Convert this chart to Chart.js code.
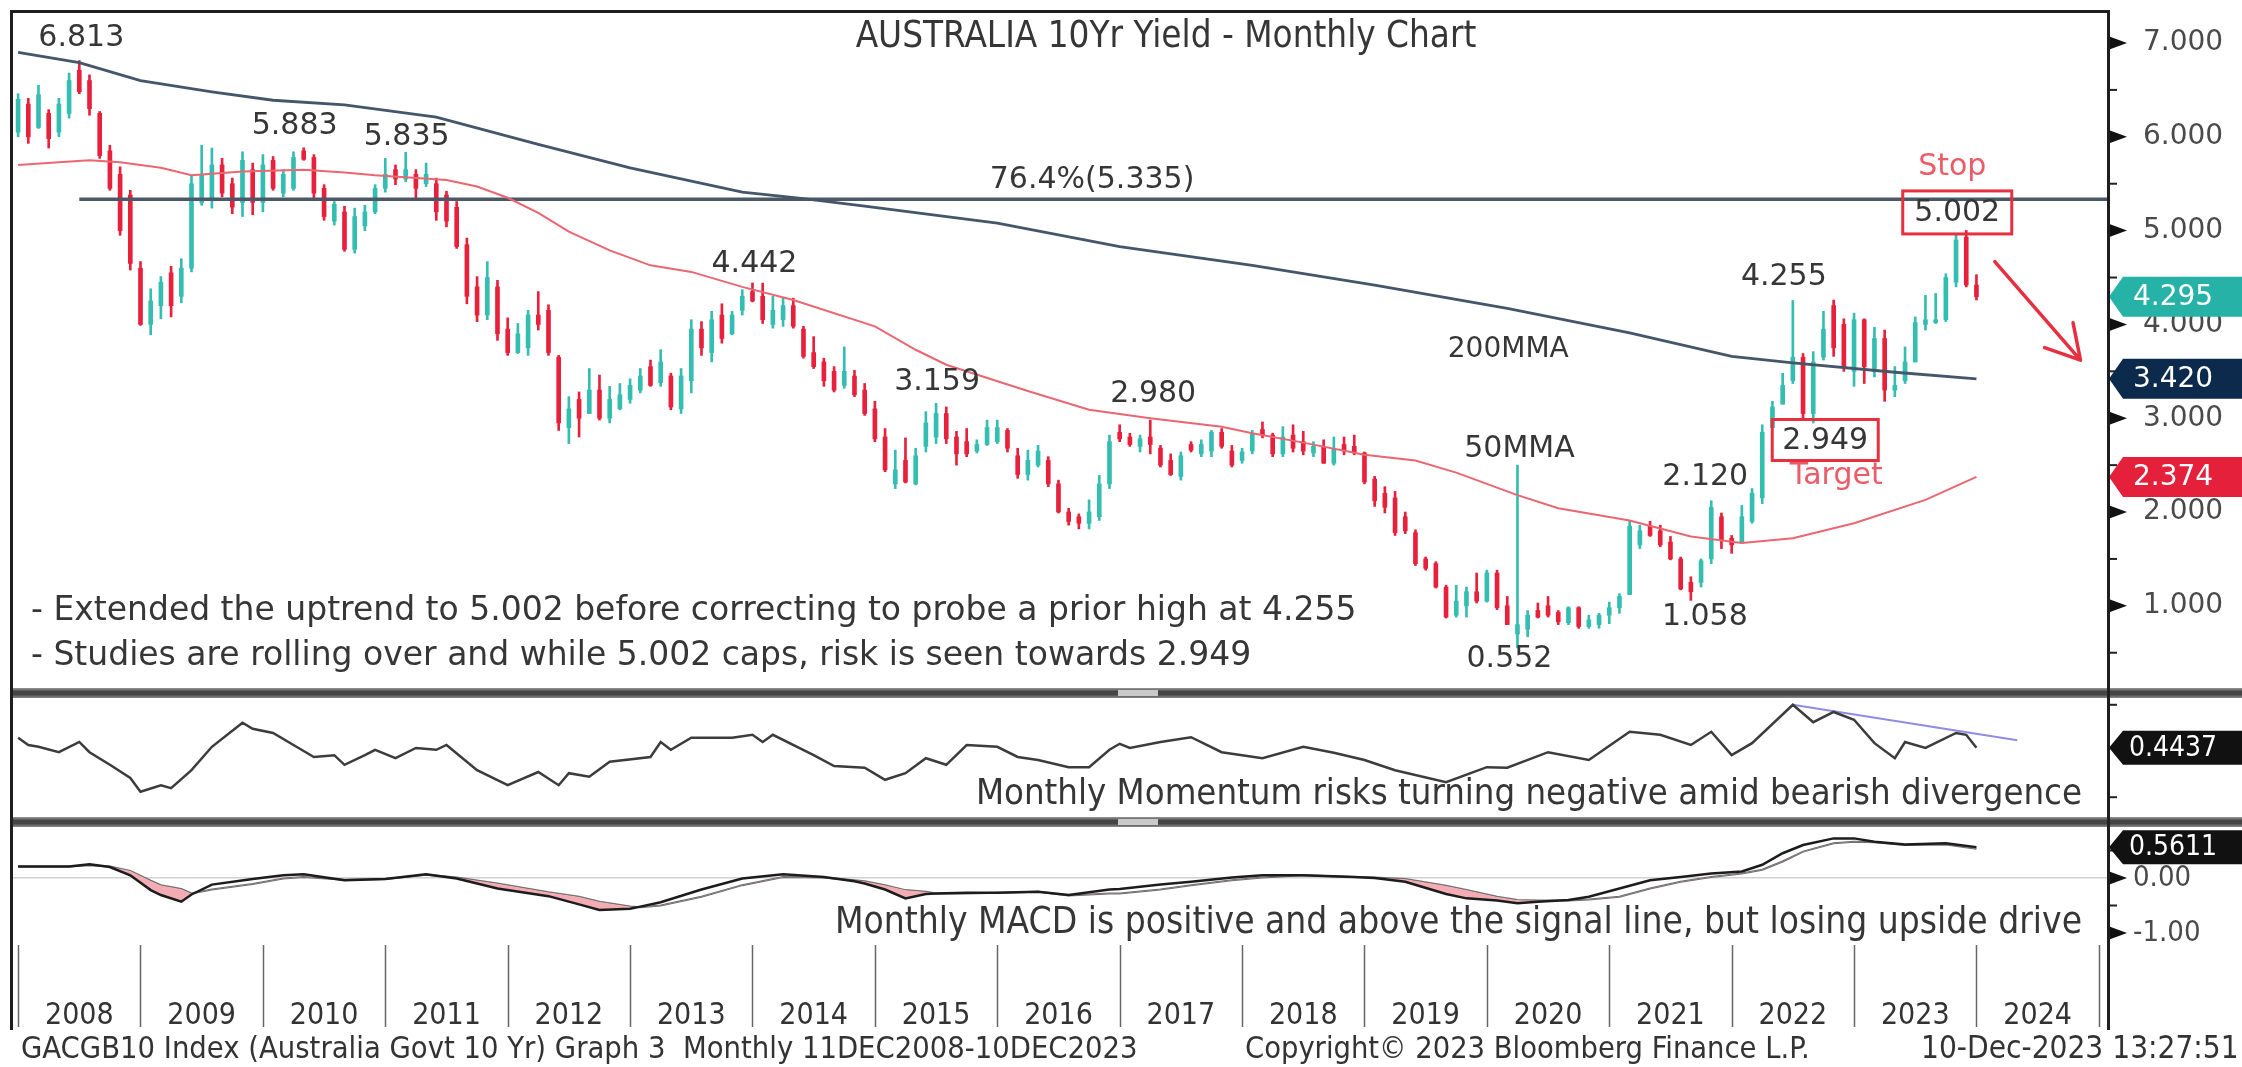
<!DOCTYPE html>
<html>
<head>
<meta charset="utf-8">
<title>AUSTRALIA 10Yr Yield - Monthly Chart</title>
<script src="https://cdn.jsdelivr.net/npm/chart.js@4.4.1/dist/chart.umd.min.js"></script>
<style>
  html, body { margin: 0; padding: 0; background: #fff; }
  #wrap { position: relative; width: 2242px; height: 1067px; overflow: hidden; background: #fff; }
  #wrap canvas { position: absolute; left: 0; }
  .sep { position: absolute; left: 10px; width: 2232px; height: 10px;
         background: linear-gradient(#9a9a9a, #454545 35%, #454545 65%, #8a8a8a); }
  .sep i { position: absolute; left: 1108px; top: 2px; width: 40px; height: 6px; background: #c9c9c9; }
  #frame { position: absolute; left: 10px; top: 10px; width: 2094px; height: 1017px;
           border: 3px solid #1e1e1e; border-bottom: 0; pointer-events: none; }
</style>
</head>
<body>
<div id="wrap">
  <canvas id="main" width="2242" height="688" style="top:0"></canvas>
  <div class="sep" style="top:688px"><i></i></div>
  <canvas id="mom" width="2242" height="119" style="top:698px"></canvas>
  <div class="sep" style="top:817px"><i></i></div>
  <canvas id="macd" width="2242" height="240" style="top:827px"></canvas>
  <div id="frame"></div>
</div>
<script>
/* AUSTRALIA 10Yr yield, monthly candles + 50/200MMA, momentum and MACD panes. */
const $ = (id) => document.getElementById(id);

// ---- data -------------------------------------------------------------
// monthly candles, Dec 2007 (index 0) .. Dec 2023 (index 192), one row per year
const yearLabels = ["2008", "2009", "2010", "2011", "2012", "2013", "2014", "2015", "2016",
  "2017", "2018", "2019", "2020", "2021", "2022", "2023", "2024"];

const open = [
  6.05,
  6.35, 6.10, 6.25, 6.05, 6.25, 6.71, 6.60, 6.25, 5.85, 5.60, 5.38, 4.60,
  4.00, 4.20, 4.55, 4.30, 4.60, 5.30, 5.35, 5.70, 5.50, 5.30, 5.65, 5.30,
  5.75, 5.40, 5.45, 5.85, 5.78, 5.45, 5.10, 5.20, 4.80, 5.05, 5.20, 5.45,
  5.65, 5.55, 5.60, 5.50, 5.50, 5.38, 5.25, 4.85, 4.40, 4.10, 4.40, 3.95,
  3.70, 3.75, 4.10, 4.15, 3.65, 2.90, 3.20, 3.05, 3.30, 3.00, 3.10, 3.20,
  3.30, 3.55, 3.38, 3.45, 3.10, 3.40, 3.95, 3.70, 4.10, 3.90, 4.15, 4.35,
  4.30, 4.00, 4.05, 4.20, 3.95, 3.70, 3.60, 3.50, 3.35, 3.45, 3.30, 3.10,
  2.80, 2.30, 2.55, 2.30, 2.70, 2.80, 3.05, 2.80, 2.75, 2.65, 2.72, 2.75,
  2.87, 2.60, 2.40, 2.50, 2.55, 2.30, 2.00, 1.95, 1.88, 1.95, 2.30, 2.85,
  2.80, 2.70, 2.80, 2.68, 2.55, 2.38, 2.72, 2.62, 2.65, 2.85, 2.65, 2.55,
  2.65, 2.88, 2.82, 2.62, 2.82, 2.75, 2.63, 2.70, 2.52, 2.72, 2.70, 2.63,
  2.35, 2.20, 2.15, 1.95, 1.78, 1.50, 1.45, 1.20, 0.90, 1.00, 1.15, 1.05,
  1.35, 1.00, 0.70, 0.75, 0.95, 1.00, 0.93, 0.82, 0.98, 0.78, 0.80, 0.90,
  0.98, 1.12, 1.65, 1.85, 1.80, 1.68, 1.50, 1.25, 1.25, 1.50, 1.95, 1.72,
  1.68, 1.90, 2.15, 2.90, 3.15, 3.40, 3.65, 3.05, 3.65, 4.20, 4.00, 3.50,
  4.05, 3.50, 3.85, 3.30, 3.40, 3.60, 4.00, 4.02, 4.05, 4.45, 4.93, 4.42,
];
const high = [
  6.46,
  6.41, 6.55, 6.29, 6.41, 6.68, 6.813, 6.66, 6.27, 5.91, 5.68, 5.43, 4.67,
  4.38, 4.51, 4.62, 4.70, 5.58, 5.91, 5.88, 5.77, 5.56, 5.84, 5.72, 5.81,
  5.79, 5.65, 5.84, 5.883, 5.81, 5.49, 5.31, 5.26, 5.24, 5.27, 5.49, 5.77,
  5.70, 5.835, 5.65, 5.72, 5.56, 5.42, 5.31, 4.92, 4.51, 4.67, 4.47, 4.07,
  4.01, 4.15, 4.35, 4.21, 3.67, 3.23, 3.28, 3.53, 3.46, 3.34, 3.37, 3.42,
  3.53, 3.62, 3.73, 3.48, 3.53, 4.05, 4.03, 4.14, 4.22, 4.14, 4.37, 4.442,
  4.44, 4.30, 4.28, 4.28, 3.98, 3.87, 3.64, 3.55, 3.76, 3.51, 3.37, 3.18,
  2.89, 2.66, 2.79, 2.68, 3.07, 3.159, 3.12, 2.86, 2.89, 2.77, 2.98, 2.98,
  2.89, 2.68, 2.66, 2.71, 2.59, 2.34, 2.04, 1.98, 2.13, 2.39, 2.82, 2.93,
  2.84, 2.82, 2.98, 2.71, 2.62, 2.64, 2.75, 2.77, 2.87, 2.89, 2.71, 2.68,
  2.87, 2.96, 2.84, 2.91, 2.93, 2.86, 2.75, 2.77, 2.80, 2.80, 2.82, 2.64,
  2.38, 2.27, 2.22, 2.00, 1.81, 1.52, 1.47, 1.22, 1.22, 1.20, 1.35, 1.38,
  1.38, 1.10, 2.50, 0.95, 1.03, 1.10, 0.95, 0.99, 0.99, 0.90, 0.92, 1.04,
  1.13, 1.91, 1.86, 1.90, 1.86, 1.74, 1.52, 1.31, 1.50, 2.12, 1.99, 1.75,
  2.07, 2.25, 2.93, 3.18, 3.48, 4.255, 3.69, 3.71, 4.14, 4.26, 4.06, 4.12,
  4.06, 3.97, 3.94, 3.55, 3.76, 4.08, 4.31, 4.33, 4.54, 4.95, 5.002, 4.53,
];
const low = [
  6.00,
  5.93, 6.09, 5.88, 6.00, 6.20, 6.46, 6.23, 5.77, 5.43, 4.95, 4.58, 3.99,
  3.89, 4.06, 4.08, 4.23, 4.56, 5.27, 5.24, 5.36, 5.18, 5.15, 5.17, 5.20,
  5.43, 5.36, 5.43, 5.75, 5.33, 5.11, 5.06, 4.78, 4.76, 5.00, 5.18, 5.41,
  5.49, 5.52, 5.33, 5.47, 5.11, 5.04, 4.81, 4.22, 4.03, 4.05, 3.83, 3.67,
  3.69, 3.67, 3.94, 3.67, 2.87, 2.73, 2.80, 3.05, 2.98, 2.95, 3.09, 3.16,
  3.27, 3.34, 3.34, 3.09, 3.05, 3.27, 3.67, 3.60, 3.80, 3.89, 4.10, 4.24,
  4.01, 3.96, 3.98, 3.96, 3.64, 3.53, 3.34, 3.28, 3.32, 3.23, 3.03, 2.75,
  2.43, 2.25, 2.31, 2.29, 2.64, 2.73, 2.73, 2.50, 2.59, 2.63, 2.71, 2.73,
  2.64, 2.36, 2.34, 2.48, 2.27, 1.99, 1.86, 1.82, 1.82, 1.91, 2.25, 2.75,
  2.70, 2.64, 2.62, 2.48, 2.39, 2.34, 2.64, 2.59, 2.59, 2.68, 2.48, 2.52,
  2.62, 2.79, 2.59, 2.59, 2.64, 2.61, 2.59, 2.52, 2.50, 2.61, 2.61, 2.30,
  2.06, 1.99, 1.75, 1.77, 1.43, 1.38, 1.19, 0.87, 0.88, 0.88, 1.03, 1.04,
  0.96, 0.80, 0.552, 0.67, 0.87, 0.88, 0.80, 0.80, 0.76, 0.76, 0.76, 0.81,
  0.92, 1.12, 1.61, 1.74, 1.63, 1.49, 1.17, 1.058, 1.20, 1.45, 1.61, 1.56,
  1.67, 1.88, 2.09, 2.90, 3.15, 3.37, 3.00, 2.949, 3.62, 3.66, 3.50, 3.34,
  3.37, 3.44, 3.18, 3.23, 3.37, 3.60, 3.94, 4.01, 4.03, 4.40, 4.40, 4.26,
];
const close = [
  6.40,
  6.00, 6.45, 5.98, 6.35, 6.60, 6.48, 6.30, 5.80, 5.45, 5.00, 4.65, 4.00,
  4.25, 4.45, 4.20, 4.60, 5.50, 5.60, 5.70, 5.40, 5.25, 5.75, 5.30, 5.70,
  5.45, 5.60, 5.78, 5.76, 5.40, 5.15, 5.28, 4.80, 5.15, 5.20, 5.45, 5.60,
  5.55, 5.65, 5.45, 5.60, 5.20, 5.10, 4.83, 4.30, 4.10, 4.50, 3.90, 3.70,
  3.90, 4.10, 4.00, 3.70, 2.95, 3.10, 3.00, 3.30, 3.00, 3.20, 3.25, 3.35,
  3.45, 3.35, 3.60, 3.12, 3.45, 3.95, 3.75, 4.05, 3.85, 4.10, 4.30, 4.25,
  4.05, 4.15, 4.20, 3.98, 3.66, 3.55, 3.40, 3.30, 3.50, 3.25, 3.05, 2.78,
  2.45, 2.45, 2.32, 2.60, 2.95, 3.05, 2.78, 2.62, 2.62, 2.72, 2.90, 2.90,
  2.68, 2.40, 2.55, 2.65, 2.30, 2.00, 1.90, 1.88, 2.00, 2.30, 2.75, 2.78,
  2.72, 2.78, 2.72, 2.50, 2.40, 2.60, 2.66, 2.72, 2.85, 2.70, 2.50, 2.64,
  2.83, 2.82, 2.62, 2.80, 2.68, 2.65, 2.70, 2.52, 2.68, 2.65, 2.63, 2.32,
  2.12, 2.05, 1.78, 1.80, 1.45, 1.40, 1.20, 0.88, 1.05, 1.15, 1.05, 1.35,
  0.98, 0.80, 0.80, 0.90, 0.88, 0.90, 0.83, 0.98, 0.78, 0.85, 0.90, 0.98,
  1.10, 1.85, 1.80, 1.75, 1.65, 1.50, 1.18, 1.15, 1.48, 2.05, 1.70, 1.65,
  1.95, 2.20, 2.85, 3.12, 3.35, 3.65, 3.05, 3.60, 3.95, 3.75, 3.55, 4.05,
  3.55, 3.85, 3.30, 3.35, 3.60, 4.02, 4.05, 4.05, 4.50, 4.90, 4.42, 4.295,
];

const ma50K = [0, 4, 7, 10, 14, 17, 22, 28, 32, 35, 42, 45, 48, 51, 54, 58, 62, 66, 71, 76,
  84, 88, 91, 99, 105, 111, 118, 121, 126, 132, 137, 141, 147, 151, 158, 164, 169, 174, 180, 187, 192];
const ma50 = [5.70, 5.73, 5.75, 5.73, 5.67, 5.59, 5.63, 5.65, 5.62, 5.59, 5.54, 5.47, 5.35, 5.19, 4.99, 4.79, 4.63, 4.56, 4.40, 4.26,
  3.98, 3.73, 3.57, 3.29, 3.09, 3.00, 2.91, 2.84, 2.74, 2.61, 2.55, 2.42, 2.18, 2.04, 1.91, 1.74, 1.67, 1.72, 1.88, 2.13, 2.374];
const ma200K = [0, 6, 12, 19, 25, 32, 41, 51, 60, 71, 77, 83, 96, 108, 121, 133, 146, 158, 168, 174, 184, 192];
const ma200 = [6.90, 6.79, 6.60, 6.48, 6.39, 6.34, 6.21, 5.92, 5.67, 5.41, 5.34, 5.26, 5.08, 4.83, 4.63, 4.42, 4.17, 3.91, 3.66, 3.59, 3.49, 3.42];

const fibFromK = 6;          // retracement drawn from the 2008 high
const fibLevel = 5.335;      // 76.4%
const yieldTicks = [1, 2, 3, 4, 5, 6, 7];
const yieldMinorTicks = [0.5, 1.5, 2.5, 3.5, 4.5, 5.5, 6.5];

const markedHighs = [[6, 6.813], [28, 5.883], [38, 5.835], [72, 4.442], [90, 3.159], [111, 2.980], [166, 2.120], [174, 4.255]];
const markedLows = [[147, 0.552], [164, 1.058]];
const stopLevel = [191, 5.002];
const targetLevel = [176, 2.949];
const spikeHigh = [147, 2.50];
const arrowFrom = [193.8, 4.67];
const arrowTo = [202.2, 3.62];

// momentum pane
const momK = [0, 1, 2, 4, 6, 7, 9, 11, 12, 14, 15, 17, 19, 22, 23, 25, 27, 29, 31, 32, 34, 35, 37, 39, 41, 42, 45, 48, 51, 53,
  54, 56, 58, 62, 63, 64, 66, 70, 72, 73, 74, 78, 80, 83, 85, 87, 89, 91, 93, 96, 98, 100, 103, 105, 107, 108, 109, 112, 115, 118,
  122, 126, 129, 132, 135, 140, 144, 146, 150, 154, 158, 161, 164, 166, 168, 170, 174, 176, 178, 180, 182, 184, 185, 187, 190, 191, 192];
const momV = [0.61, 0.49, 0.46, 0.37, 0.54, 0.37, 0.16, -0.06, -0.29, -0.18, -0.23, 0.07, 0.46, 0.86, 0.76, 0.69, 0.49, 0.29, 0.32, 0.16,
  0.32, 0.41, 0.27, 0.44, 0.41, 0.49, 0.07, -0.18, 0.04, -0.18, 0.02, -0.04, 0.21, 0.29, 0.54, 0.41, 0.61, 0.61, 0.66, 0.54,
  0.66, 0.32, 0.14, 0.11, -0.09, 0.02, 0.27, 0.16, 0.49, 0.46, 0.29, 0.24, 0.12, 0.12, 0.41, 0.51, 0.44, 0.54, 0.62, 0.37,
  0.27, 0.46, 0.36, 0.24, 0.07, -0.13, 0.12, 0.11, 0.37, 0.24, 0.71, 0.66, 0.49, 0.71, 0.32, 0.52, 1.16, 0.87, 1.04, 0.91,
  0.52, 0.27, 0.54, 0.44, 0.69, 0.66, 0.4437];
const momTrendK = [174, 196];
const momTrendV = [1.16, 0.57];
const momMinorTicks = [1.16, -0.38];

// MACD pane
const macdK = [0, 5, 7, 9, 11, 13, 14, 16, 17, 19, 23, 26, 28, 32, 36, 40, 43, 47, 52, 55, 57, 60, 61, 63, 67, 71, 75, 79, 82, 83,
  85, 87, 89, 90, 93, 96, 100, 103, 107, 108, 112, 115, 119, 122, 126, 131, 133, 136, 140, 142, 145, 147, 149, 152, 154, 157, 160, 163, 166, 169,
  171, 173, 175, 178, 180, 182, 185, 189, 192];
const macdV = [0.21, 0.21, 0.25, 0.20, 0.05, -0.22, -0.31, -0.43, -0.30, -0.12, -0.02, 0.05, 0.07, -0.04, -0.02, 0.07, -0.01, -0.19, -0.33, -0.48,
  -0.58, -0.56, -0.52, -0.44, -0.21, -0.01, 0.07, 0.02, -0.06, -0.10, -0.21, -0.37, -0.29, -0.28, -0.27, -0.27, -0.25, -0.31, -0.21, -0.20,
  -0.12, -0.07, 0.01, 0.05, 0.05, 0.02, 0.00, -0.07, -0.29, -0.37, -0.41, -0.46, -0.43, -0.40, -0.34, -0.19, -0.04, 0.02, 0.08, 0.12,
  0.24, 0.45, 0.60, 0.72, 0.72, 0.66, 0.61, 0.63, 0.5611];
const signalV = [0.21, 0.21, 0.23, 0.21, 0.13, -0.05, -0.13, -0.20, -0.28, -0.21, -0.11, -0.01, 0.02, -0.03, -0.02, 0.06, 0.01, -0.10, -0.26, -0.34,
  -0.43, -0.52, -0.53, -0.50, -0.34, -0.13, 0.02, 0.01, -0.04, -0.06, -0.13, -0.22, -0.25, -0.28, -0.28, -0.27, -0.25, -0.32, -0.28, -0.28,
  -0.21, -0.13, -0.04, 0.01, 0.05, 0.02, 0.01, -0.02, -0.14, -0.22, -0.34, -0.40, -0.41, -0.41, -0.39, -0.34, -0.19, -0.07, 0.02, 0.08,
  0.15, 0.30, 0.48, 0.63, 0.66, 0.65, 0.60, 0.61, 0.53];
const macdTicks = [0, -1];
const macdMinorTicks = [0.5, -0.5];

const chartTitle = "AUSTRALIA 10Yr Yield - Monthly Chart";
const notes = [
  "- Extended the uptrend to 5.002 before correcting to probe a prior high at 4.255",
  "- Studies are rolling over and while 5.002 caps, risk is seen towards 2.949",
];
const momCaption = "Monthly Momentum risks turning negative amid bearish divergence";
const macdCaption = "Monthly MACD is positive and above the signal line, but losing upside drive";
const footer = [
  "GACGB10 Index (Australia Govt 10 Yr) Graph 3  Monthly 11DEC2008-10DEC2023",
  "Copyright\u00a9 2023 Bloomberg Finance L.P.",
  "10-Dec-2023 13:27:51",
];

// ---- look ---------------------------------------------------------------
const UP = "#34bdb1", DOWN = "#e8203c", RED = "#e6303f", NOTE_RED = "#ec5b68", INK = "#363636";
const SANS = "'DejaVu Sans', Verdana, sans-serif";
const NARROW = "'DejaVu Sans Condensed', 'Liberation Sans Narrow', 'DejaVu Sans', sans-serif";
const W = 2242, PLOT_L = 13, AXIS_W = 135;
const K_MIN = -0.5, K_MAX = 204.8;
const PX_PER_MONTH = (W - AXIS_W - PLOT_L) / (K_MAX - K_MIN);

// label offsets (px) from the point they describe
const highOffsets = [[2, -22], [-9, -22], [1, -15], [2, -19], [1, -21], [3, -26], [-6, -24], [-9, -23]];
const lowOffsets = [[-8, 11], [14, 17]];

Chart.defaults.font.family = SANS;
Chart.defaults.color = INK;

const pts = (ks, vs) => ks.map((k, i) => ({ x: k, y: vs[i] }));
const xScale = () => ({ type: "linear", min: K_MIN, max: K_MAX, offset: false, display: false });
const baseOpts = (padding) => ({
  responsive: false, animation: false, devicePixelRatio: 1,
  layout: { padding, autoPadding: false },
  plugins: { legend: { display: false }, tooltip: { enabled: false } },
});

function fitFont(ctx, text, family, width) {
  ctx.font = `100px ${family}`;
  return `${(100 * width / ctx.measureText(text).width).toFixed(1)}px ${family}`;
}

function tag(ctx, area, py, text, bg, h) {
  ctx.beginPath();
  ctx.moveTo(area.right + 2, py);
  ctx.lineTo(area.right + 16, py - h / 2);
  ctx.lineTo(W, py - h / 2);
  ctx.lineTo(W, py + h / 2);
  ctx.lineTo(area.right + 16, py + h / 2);
  ctx.closePath();
  ctx.fillStyle = bg;
  ctx.fill();
  ctx.fillStyle = "#fff";
  ctx.textAlign = "center";
  ctx.textBaseline = "middle";
  ctx.fillText(text, area.right + 66, py + 1);
}

function axisMarks(ctx, area, y, major, minor) {
  ctx.fillStyle = "#111";
  major.forEach((v) => {
    const py = y.getPixelForValue(v);
    ctx.beginPath();
    ctx.moveTo(area.right + 1, py - 7);
    ctx.lineTo(area.right + 20, py);
    ctx.lineTo(area.right + 1, py + 7);
    ctx.fill();
  });
  ctx.strokeStyle = "#222";
  ctx.lineWidth = 2;
  minor.forEach((v) => {
    const py = y.getPixelForValue(v);
    ctx.beginPath();
    ctx.moveTo(area.right, py);
    ctx.lineTo(area.right + 10, py);
    ctx.stroke();
  });
}

// ---- main pane ----------------------------------------------------------
const mainDeco = {
  id: "mainDeco",
  afterDraw(chart) {
    const { ctx, chartArea: a, scales: { x, y } } = chart;
    const px = (k) => x.getPixelForValue(k), py = (v) => y.getPixelForValue(v);
    ctx.save();
    axisMarks(ctx, a, y, yieldTicks, yieldMinorTicks);

    ctx.textAlign = "center";
    ctx.textBaseline = "middle";
    ctx.fillStyle = INK;
    ctx.font = fitFont(ctx, chartTitle, NARROW, 620);
    ctx.fillText(chartTitle, 1166, 38);

    ctx.font = `30px ${SANS}`;
    markedHighs.forEach(([k, v], i) => ctx.fillText(v.toFixed(3), px(k) + highOffsets[i][0], py(v) + highOffsets[i][1]));
    markedLows.forEach(([k, v], i) => ctx.fillText(v.toFixed(3), px(k) + lowOffsets[i][0], py(v) + lowOffsets[i][1]));
    ctx.fillText(`76.4%(${fibLevel.toFixed(3)})`, px(105) + 3, py(fibLevel) - 19);
    ctx.fillText("50MMA", px(spikeHigh[0]) + 2, py(spikeHigh[1]) - 16);
    ctx.font = `28px ${SANS}`;
    const m200i = ma200K.indexOf(146);
    ctx.fillText("200MMA", px(146) + 1, py(ma200[m200i]) + 41);

    // stop / target boxes
    ctx.font = `30px ${SANS}`;
    const boxes = [
      { at: stopLevel, dx: -9, dy: -18, w: 109, h: 43, note: "Stop", ndx: -14, ndy: -63 },
      { at: targetLevel, dx: 12, dy: 17, w: 106, h: 41, note: "Target", ndx: 23, ndy: 53 },
    ];
    boxes.forEach((b) => {
      const [k, v] = b.at;
      const cx = px(k) + b.dx, cy = py(v) + b.dy;
      ctx.strokeStyle = RED;
      ctx.lineWidth = 3;
      ctx.strokeRect(cx - b.w / 2, cy - b.h / 2, b.w, b.h);
      ctx.fillStyle = INK;
      ctx.fillText(v.toFixed(3), cx, cy + 1);
      ctx.fillStyle = NOTE_RED;
      ctx.fillText(b.note, px(k) + b.ndx, py(v) + b.ndy);
    });

    // projected move arrow
    const x0 = px(arrowFrom[0]), y0 = py(arrowFrom[1]), x1 = px(arrowTo[0]), y1 = py(arrowTo[1]);
    const ang = Math.atan2(y1 - y0, x1 - x0);
    ctx.strokeStyle = RED;
    ctx.lineWidth = 3.5;
    ctx.lineCap = "round";
    ctx.beginPath();
    ctx.moveTo(x0, y0);
    ctx.lineTo(x1, y1);
    [-0.52, 0.52].forEach((d) => {
      ctx.moveTo(x1, y1);
      ctx.lineTo(x1 - 38 * Math.cos(ang + d), y1 - 38 * Math.sin(ang + d));
    });
    ctx.stroke();

    // commentary
    ctx.textAlign = "left";
    ctx.fillStyle = INK;
    ctx.font = fitFont(ctx, notes[0], SANS, 1327);
    ctx.fillText(notes[0], 31, 611);
    ctx.fillText(notes[1], 31, 656);

    // last-value tags
    ctx.font = `28px ${SANS}`;
    tag(ctx, a, py(close[close.length - 1]), close[close.length - 1].toFixed(3), "#27b2a7", 40);
    tag(ctx, a, py(ma200[ma200.length - 1]), ma200[ma200.length - 1].toFixed(3), "#0b2a4c", 40);
    tag(ctx, a, py(ma50[ma50.length - 1]), ma50[ma50.length - 1].toFixed(3), "#e4203a", 40);
    ctx.restore();
  },
};

const idx = close.map((_, k) => k);
const candleColor = idx.map((k) => (close[k] >= open[k] ? UP : DOWN));

new Chart($("main"), {
  type: "bar",
  data: {
    datasets: [
      { type: "line", data: pts(ma50K, ma50), borderColor: "#ea6671", borderWidth: 2, pointRadius: 0, order: 1 },
      { type: "line", data: pts(ma200K, ma200), borderColor: "#45566a", borderWidth: 2.8, pointRadius: 0, order: 1 },
      { type: "line", data: [{ x: fibFromK, y: fibLevel }, { x: K_MAX, y: fibLevel }], borderColor: "#4b5867", borderWidth: 3.5, pointRadius: 0, order: 1 },
      {
        data: idx.map((k) => ({ x: k, y: [Math.min(open[k], close[k]), Math.max(open[k], close[k])] })),
        backgroundColor: candleColor, barThickness: 4, minBarLength: 2, grouped: false, order: 2,
      },
      {
        data: idx.map((k) => ({ x: k, y: [low[k], high[k]] })),
        backgroundColor: candleColor, barThickness: 2, grouped: false, order: 3,
      },
    ],
  },
  options: {
    ...baseOpts({ left: PLOT_L, top: 13, right: 0, bottom: 0 }),
    scales: {
      x: xScale(),
      y: {
        type: "linear", position: "right", min: 0.124, max: 7.32,
        grid: { display: false }, border: { display: false },
        afterBuildTicks: (s) => { s.ticks = yieldTicks.map((v) => ({ value: v })); },
        afterFit: (s) => { s.width = AXIS_W; s.paddingTop = 0; s.paddingBottom = 0; },
        ticks: { padding: 28, color: "#4a4a4a", font: { size: 28 }, callback: (v) => Number(v).toFixed(3) },
      },
    },
  },
  plugins: [mainDeco],
});

// ---- momentum pane ------------------------------------------------------
const momDeco = {
  id: "momDeco",
  afterDraw(chart) {
    const { ctx, chartArea: a, scales: { y } } = chart;
    ctx.save();
    axisMarks(ctx, a, y, [], momMinorTicks);
    ctx.fillStyle = INK;
    ctx.textAlign = "right";
    ctx.textBaseline = "middle";
    ctx.font = fitFont(ctx, momCaption, NARROW, 1107);
    ctx.fillText(momCaption, 2082, 97);
    ctx.font = `28px ${NARROW}`;
    const last = momV[momV.length - 1];
    tag(ctx, a, y.getPixelForValue(last), last.toFixed(4), "#111", 34);
    ctx.restore();
  },
};

new Chart($("mom"), {
  type: "line",
  data: {
    datasets: [
      { data: pts(momK, momV), borderColor: "#3c3c3c", borderWidth: 2.5, pointRadius: 0 },
      { data: pts(momTrendK, momTrendV), borderColor: "#8d8de4", borderWidth: 2, pointRadius: 0 },
    ],
  },
  options: {
    ...baseOpts({ left: PLOT_L, top: 0, right: AXIS_W, bottom: 0 }),
    scales: { x: xScale(), y: { min: -0.71, max: 1.273, display: false } },
  },
  plugins: [momDeco],
});

// ---- MACD pane + time axis + footer ------------------------------------
const macdDeco = {
  id: "macdDeco",
  afterDraw(chart) {
    const { ctx, chartArea: a, scales: { x, y } } = chart;
    ctx.save();
    // year separators
    ctx.strokeStyle = "#666";
    ctx.lineWidth = 1.5;
    for (let j = 0; j <= yearLabels.length; j++) {
      const px = Math.round(x.getPixelForValue(j * 12)) + 0.5;
      ctx.beginPath();
      ctx.moveTo(px, a.bottom);
      ctx.lineTo(px, a.bottom + 82);
      ctx.stroke();
    }
    axisMarks(ctx, a, y, macdTicks, macdMinorTicks);

    ctx.fillStyle = INK;
    ctx.textAlign = "right";
    ctx.textBaseline = "middle";
    ctx.font = fitFont(ctx, macdCaption, NARROW, 1247);
    ctx.fillText(macdCaption, 2082, 96);

    ctx.font = `28px ${NARROW}`;
    const last = macdV[macdV.length - 1];
    tag(ctx, a, y.getPixelForValue(last), last.toFixed(4), "#111", 34);

    // footer
    ctx.fillStyle = "#333";
    ctx.textAlign = "left";
    [[21, 1117], [1245, 565], [1921, 318]].forEach(([fx, fw], i) => {
      ctx.font = fitFont(ctx, footer[i], NARROW, fw);
      ctx.fillText(footer[i], fx, 223);
    });
    ctx.restore();
  },
};

new Chart($("macd"), {
  type: "line",
  data: {
    datasets: [
      {
        data: pts(macdK, macdV), borderColor: "#1c1c1c", borderWidth: 2.5, pointRadius: 0,
        fill: { target: 1, above: "rgba(0,0,0,0)", below: "#f3acb4" },
      },
      { data: pts(macdK, signalV), borderColor: "#707070", borderWidth: 2, pointRadius: 0 },
    ],
  },
  options: {
    ...baseOpts({ left: PLOT_L, top: 0, right: 0, bottom: 37 }),
    scales: {
      x: {
        type: "linear", min: K_MIN, max: K_MAX, offset: false, position: "bottom",
        grid: { display: false }, border: { display: false },
        afterBuildTicks: (s) => { s.ticks = yearLabels.map((_, i) => ({ value: i * 12 })); },
        afterFit: (s) => { s.height = 85; s.paddingLeft = 0; s.paddingRight = 0; },
        ticks: {
          autoSkip: false, maxRotation: 0, minRotation: 0, padding: 45,
          labelOffset: 6 * PX_PER_MONTH, color: "#333", font: { family: NARROW, size: 30 },
          callback: (v, i) => yearLabels[i],
        },
      },
      y: {
        type: "linear", position: "right", min: -1.218, max: 0.927,
        border: { display: false },
        grid: { drawTicks: false, lineWidth: 1.5, color: (c) => (c.tick && c.tick.value === 0 ? "#d2d2d2" : "rgba(0,0,0,0)") },
        afterBuildTicks: (s) => { s.ticks = macdTicks.map((v) => ({ value: v })); },
        afterFit: (s) => { s.width = AXIS_W; s.paddingTop = 0; s.paddingBottom = 0; },
        ticks: { padding: 26, color: "#4a4a4a", font: { family: NARROW, size: 29 }, callback: (v) => Number(v).toFixed(2) },
      },
    },
  },
  plugins: [macdDeco],
});
</script>
</body>
</html>
